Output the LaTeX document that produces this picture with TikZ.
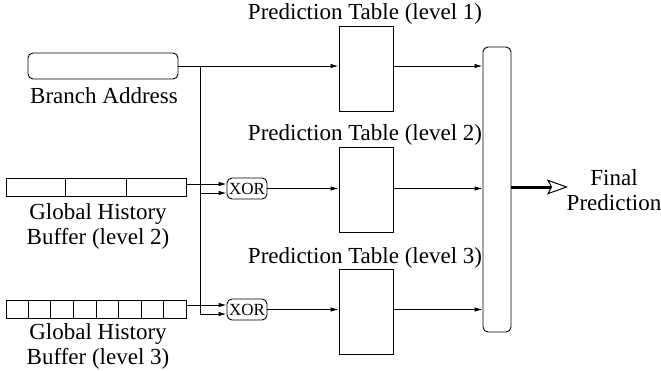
\documentclass[tikz,border=0pt]{standalone}
\usepackage{fontspec}
\setmainfont{Liberation Serif}
\newfontfamily\labelfont{Liberation Serif}
\usetikzlibrary{arrows.meta,calc}

\tikzset{
  unit/.style={draw, line width=0.9pt, inner sep=0pt},
  tablebox/.style={unit, minimum width=54pt, minimum height=85pt},
  bufbox/.style={unit, minimum width=180pt, minimum height=18pt},
  xorbox/.style={unit, rounded corners=5pt, minimum width=40pt, minimum height=21pt, font=\labelfont\fontsize{17}{19}\selectfont},
  wire/.style={line width=0.9pt},
  arr/.style={wire, -{Latex[length=8pt,width=4.5pt]}},
  bigarr/.style={line width=3pt, -{Stealth[open,length=21pt,width=15pt,inset=4pt,line width=1pt]}},
  txt/.style={font=\labelfont\fontsize{23}{25}\selectfont, align=center, inner sep=0pt}
}

\begin{document}
\begin{tikzpicture}[x=1pt, y=-1pt]
  \useasboundingbox (0,0) rectangle (661,370);

  % branch address register
  \node[unit, rounded corners=5pt, minimum width=150pt, minimum height=26pt] (ba) at (103,66) {};
  \node[txt] (balab) at (104,96) {Branch Address};

  % global history buffers
  \node[bufbox] (buf2) at (96,187) {};
  \foreach \k in {1,2}
    \draw[wire] ($(buf2.north west)!\k/3!(buf2.north east)$) -- ($(buf2.south west)!\k/3!(buf2.south east)$);
  \node[txt] (buf2lab) at (98,226) {Global History\\Buffer (level 2)};

  \node[bufbox] (buf3) at (96,309) {};
  \foreach \k in {1,...,7}
    \draw[wire] ($(buf3.north west)!\k/8!(buf3.north east)$) -- ($(buf3.south west)!\k/8!(buf3.south east)$);
  \node[txt] (buf3lab) at (98,346) {Global History\\Buffer (level 3)};

  % xor units
  \node[xorbox] (x2) at (247,188.5) {XOR};
  \node[xorbox] (x3) at (247,309.5) {XOR};

  % prediction tables
  \node[tablebox] (t1) at (366,68.5) {};
  \node[tablebox] (t2) at (366,190) {};
  \node[tablebox] (t3) at (366,312) {};
  \node[txt] (t1lab) at (365,14) {Prediction Table (level 1)};
  \node[txt] (t2lab) at (365,135) {Prediction Table (level 2)};
  \node[txt] (t3lab) at (365,258) {Prediction Table (level 3)};

  % final selector
  \node[unit, rounded corners=5pt, minimum width=28pt, minimum height=285pt] (fb) at (497,189.5) {};
  \coordinate (fp) at (568,187);
  \node[txt] (fplab) at (614,190) {Final\\Prediction};

  % xor input points
  \coordinate (x2a) at ($(x2.west)+(0,-4.5)$);
  \coordinate (x2b) at ($(x2.west)+(0,4.5)$);
  \coordinate (x3a) at ($(x3.west)+(0,-4.5)$);
  \coordinate (x3b) at ($(x3.west)+(0,4.5)$);
  \coordinate (j) at (200,66);

  % address fan-out
  \draw[arr] (ba.east) -- (t1.west |- ba.east);
  \draw[arr] (j) |- (x3b);
  \draw[arr] (j |- x2b) -- (x2b);

  % history inputs
  \draw[arr] (buf2.east |- x2a) -- (x2a);
  \draw[arr] (buf3.east |- x3a) -- (x3a);

  % table indices
  \draw[arr] (x2.east) -- (t2.west |- x2.east);
  \draw[arr] (x3.east) -- (t3.west |- x3.east);

  % table outputs
  \draw[arr] (t1.east |- ba.east) -- (fb.west |- ba.east);
  \draw[arr] (t2.east |- x2.east) -- (fb.west |- x2.east);
  \draw[arr] (t3.east |- x3.east) -- (fb.west |- x3.east);

  % final prediction
  \draw[bigarr] (fb.east |- fp) -- (fp);
\end{tikzpicture}
\end{document}
